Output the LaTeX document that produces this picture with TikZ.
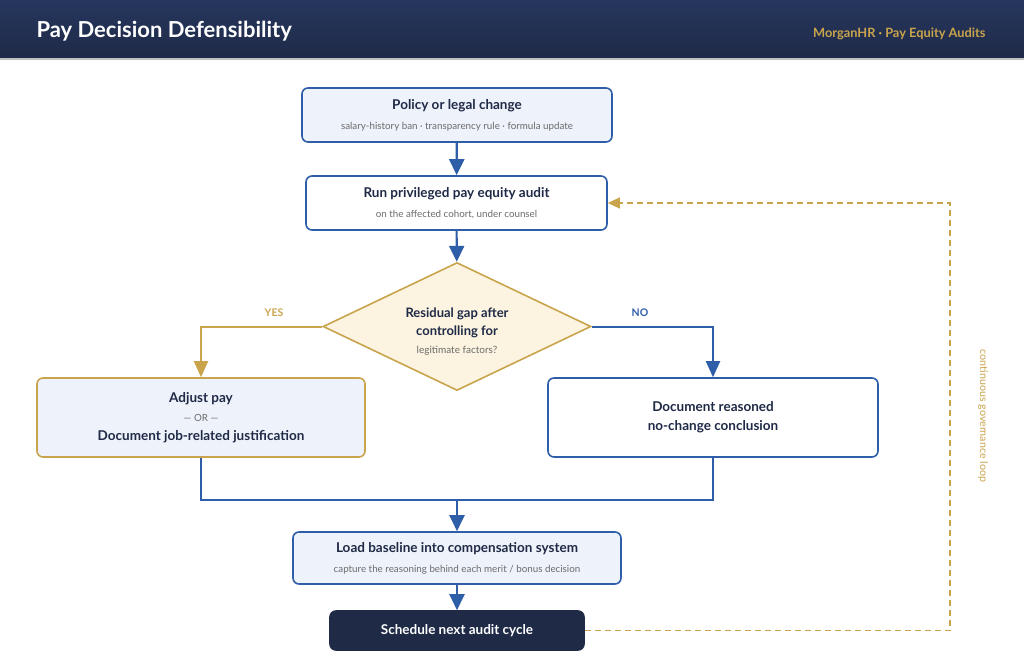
\documentclass[tikz,border=0pt]{standalone}
\usepackage{fontspec}
\setmainfont{Lato}
\usetikzlibrary{arrows.meta,shapes.geometric}

\definecolor{navy}{HTML}{1F2A47}
\definecolor{navytop}{HTML}{26365E}
\definecolor{flowblue}{HTML}{2F5EA8}
\definecolor{gold}{HTML}{C9A44C}
\definecolor{paleblue}{HTML}{EEF2FA}
\definecolor{cream}{HTML}{FCF4E0}
\definecolor{subgray}{HTML}{6B6B6B}

\newcommand{\subline}[1]{{\fontsize{9.8}{11.5}\selectfont\mdseries\color{subgray}#1}}

\begin{document}
\begin{tikzpicture}[
  x=1pt, y=-1pt,
  box/.style={rectangle, rounded corners=6pt, draw=flowblue, line width=1.6pt, fill=paleblue,
    align=center, text=navy, inner sep=0pt, font=\fontsize{13.5}{15}\selectfont\bfseries},
  decision/.style={diamond, draw=gold, line width=1.6pt, fill=cream, inner sep=0pt, aspect=2,
    minimum width=268pt, minimum height=128pt},
  dectext/.style={align=center, text=navy, font=\fontsize{13}{14}\selectfont\bfseries},
  flow/.style={draw=flowblue, line width=2.2pt, -{Triangle[width=15pt,length=16pt]}},
  flowline/.style={draw=flowblue, line width=2pt},
  yesline/.style={draw=gold, line width=2pt, -{Triangle[width=14pt,length=16pt]}},
  noline/.style={draw=flowblue, line width=2pt, -{Triangle[width=14pt,length=16pt]}},
  loopline/.style={draw=gold, line width=1.3pt, dashed, dash pattern=on 6pt off 4pt,
    -{Triangle[width=11pt,length=12pt]}},
  branch/.style={font=\fontsize{10.5}{12}\selectfont\bfseries}
]
  \useasboundingbox (0,0) rectangle (1024,658);

  % Header
  \shade[top color=navytop, bottom color=navy] (0,0) rectangle (1024,58);
  \fill[black!25] (0,58) rectangle (1024,60);
  \node[anchor=west, text=white, font=\fontsize{22}{26}\selectfont\bfseries] (title) at (33,31) {Pay Decision Defensibility};
  \node[anchor=east, text=gold, font=\fontsize{12.8}{15}\selectfont\bfseries] (brand) at (989,34) {MorganHR · Pay Equity Audits};

  % Policy change
  \node[box, minimum width=310pt, minimum height=54pt] (policy) at (457,115)
    {Policy or legal change\\[5pt]\subline{salary-history ban · transparency rule · formula update}};

  % Audit
  \node[box, fill=white, minimum width=301pt, minimum height=54pt] (audit) at (456.5,203)
    {Run privileged pay equity audit\\[5pt]\subline{on the affected cohort, under counsel}};

  % Decision
  \node[decision] (gap) at (457,326.5) {};
  \node[dectext] (gaptext) at ([yshift=-5pt]gap.center)
    {Residual gap after\\[4pt]controlling for\\[4pt]{\fontsize{10}{11}\selectfont\mdseries\color{subgray}legitimate factors?}};

  % Outcomes
  \node[box, draw=gold, minimum width=328pt, minimum height=79pt] (adjust) at (201,417.5)
    {Adjust pay\\[4pt]\subline{--- OR ---}\\[4pt]Document job-related justification};
  \node[box, fill=white, minimum width=330pt, minimum height=79pt] (nochange) at (713,417.5)
    {Document reasoned\\[4pt]no-change conclusion};

  % Baseline
  \node[box, minimum width=328pt, minimum height=52pt] (baseline) at (457,558)
    {Load baseline into compensation system\\[5pt]\subline{capture the reasoning behind each merit / bonus decision}};

  % Next cycle
  \node[box, fill=navy, draw=navy, text=white, minimum width=254pt, minimum height=39pt] (cycle) at (457,630.5)
    {Schedule next audit cycle};

  \coordinate (merge) at (457,500);
  \coordinate (loopturn) at (950,203);

  % Arrows
  \draw[flow] (policy) -- (audit);
  \draw[flow] (audit) -- (gap);
  \draw[yesline] (gap.west) -| (adjust.north);
  \draw[noline] (gap.east) -| (nochange.north);
  \draw[flowline] (adjust.south) |- (merge) -| (nochange.south);
  \draw[flow] (merge) -- (baseline.north);
  \draw[flow] (baseline) -- (cycle);
  \draw[loopline] (cycle.east) -| (loopturn) -- (audit.east);

  % Labels
  \node[branch, text=gold] (yes) at (274,313) {YES};
  \node[branch, text=flowblue] (no) at (640,313) {NO};
  \node[rotate=-90, text=gold, font=\fontsize{10.7}{12}\selectfont] (looplabel) at (983,416) {continuous governance loop};
\end{tikzpicture}
\end{document}
